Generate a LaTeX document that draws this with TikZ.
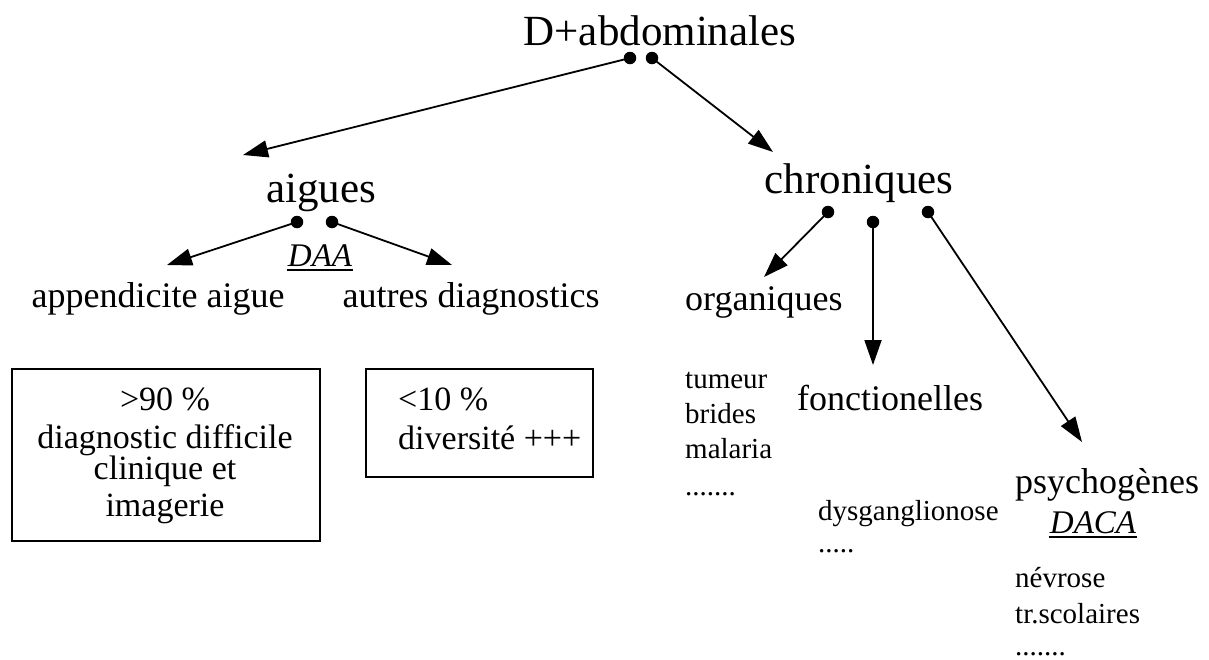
\documentclass[tikz,border=0pt]{standalone}
\usepackage{fontspec}
\setmainfont{Liberation Serif}
\usetikzlibrary{arrows.meta}
\begin{document}
\begin{tikzpicture}[x=1pt,y=-1pt,
  conn/.style={line width=1.8pt,-{Triangle[length=25pt,width=17pt]}},
  dot/.style={circle,fill=black,inner sep=0pt,minimum size=12.5pt},
  big/.style={font=\fontsize{43}{43}\selectfont, anchor=base, inner sep=0pt},
  mid/.style={font=\fontsize{36}{36}\selectfont, anchor=base, inner sep=0pt},
  midl/.style={font=\fontsize{36}{36}\selectfont, anchor=base west, inner sep=0pt},
  boxtxt/.style={font=\fontsize{34}{34}\selectfont, anchor=base, inner sep=0pt},
  boxtxtl/.style={font=\fontsize{34}{34}\selectfont, anchor=base west, inner sep=0pt},
  small/.style={font=\fontsize{29}{29}\selectfont, anchor=base west, inner sep=0pt},
  tag/.style={font=\fontsize{33}{33}\selectfont\itshape, anchor=base, inner sep=0pt},
  frame/.style={draw,line width=1.5pt,inner sep=0pt,anchor=north west}
]
\useasboundingbox (0,0) rectangle (1209,659);

% main labels
\node[big] (root) at (660,45) {D+abdominales};
\node[big] (aig) at (321,202) {aigues};
\node[big] (chr) at (859,193) {chroniques};
\node[mid] (app) at (158,307) {appendicite aigue};
\node[mid] (aut) at (471,307) {autres diagnostics};
\node[tag] (daa) at (320,266) {DAA};
\draw[line width=1.8pt] ([yshift=-4pt,xshift=-1pt]daa.base west) -- ([yshift=-4pt,xshift=1pt]daa.base east);

\node[midl] (org) at (685,310) {organiques};
\node[midl] (fon) at (797,410) {fonctionelles};
\node[midl] (psy) at (1015,493) {psychogènes};
\node[tag] (daca) at (1093,533) {DACA};
\draw[line width=1.8pt] ([yshift=-4pt,xshift=-1pt]daca.base west) -- ([yshift=-4pt,xshift=1pt]daca.base east);

% lists
\node[small] (l1) at (685,388) {tumeur};
\node[small] (l2) at (685,423) {brides};
\node[small] (l3) at (685,458) {malaria};
\node[small] (l4) at (685,495) {.......};
\node[small] (f1) at (818,520) {dysganglionose};
\node[small] (f2) at (818,552) {.....};
\node[small] (p1) at (1015,587) {névrose};
\node[small] (p2) at (1015,623) {tr.scolaires};
\node[small] (p3) at (1015,655) {.......};

% boxes
\node[frame, minimum width=308pt, minimum height=172pt] (box1) at (11,368) {};
\node[boxtxt] (b1a) at (165,410) {>90 \%};
\node[boxtxt] (b1b) at (165,448) {diagnostic difficile};
\node[boxtxt] (b1c) at (165,479) {clinique et};
\node[boxtxt] (b1d) at (165,516) {imagerie};
\node[frame, minimum width=227pt, minimum height=108pt] (box2) at (365,368) {};
\node[boxtxtl] (b2a) at (398,410) {<10 \%};
\node[boxtxtl] (b2b) at (398,449) {diversité +++};

% dots
\node[dot] (d1) at (630,58) {};
\node[dot] (d2) at (652,58) {};
\node[dot] (a1) at (297,222) {};
\node[dot] (a2) at (332,222) {};
\node[dot] (c1) at (828,212) {};
\node[dot] (c2) at (873,222) {};
\node[dot] (c3) at (928,212) {};

% arrow tips
\coordinate (t1) at (243,155);
\coordinate (t2) at (773,152);
\coordinate (t3) at (167,265);
\coordinate (t4) at (452,265);
\coordinate (t5) at (764,277);
\coordinate (t6) at (873,365);
\coordinate (t7) at (1082,442);

\draw[conn] (d1.center) -- (t1);
\draw[conn] (d2.center) -- (t2);
\draw[conn] (a1.center) -- (t3);
\draw[conn] (a2.center) -- (t4);
\draw[conn] (c1.center) -- (t5);
\draw[conn] (c2.center) -- (t6);
\draw[conn] (c3.center) -- (t7);
\end{tikzpicture}
\end{document}
